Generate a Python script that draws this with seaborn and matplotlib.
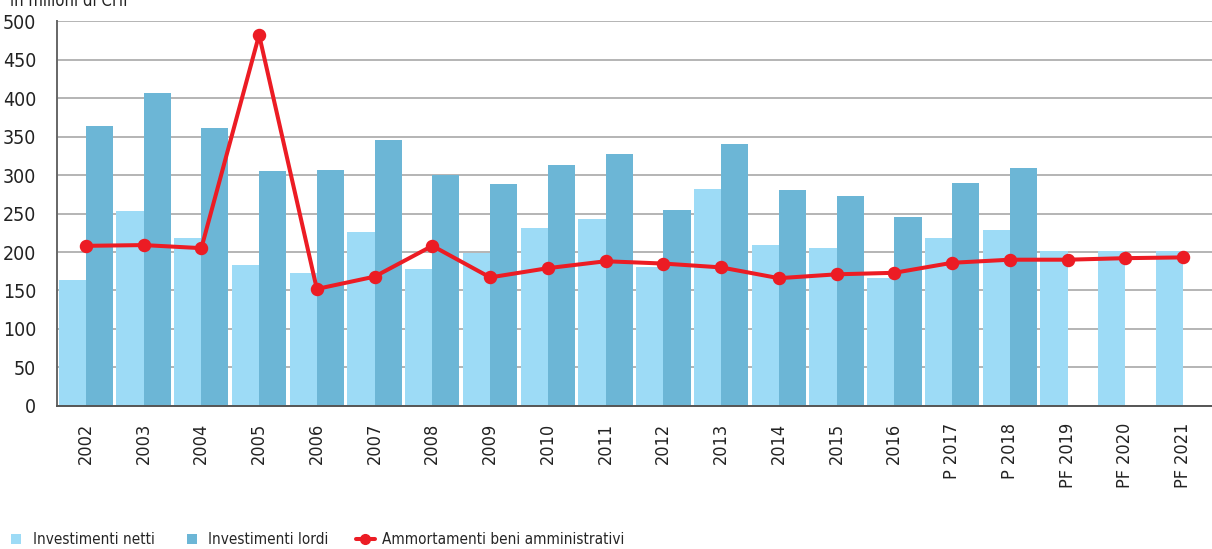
import pandas as pd
import numpy as np
import matplotlib
matplotlib.use("Agg")
import matplotlib.pyplot as plt
from matplotlib.lines import Line2D
from matplotlib.ticker import FixedLocator
import seaborn as sns

anni = ["2002", "2003", "2004", "2005", "2006", "2007", "2008", "2009", "2010",
        "2011", "2012", "2013", "2014", "2015", "2016", "P 2017", "P 2018",
        "PF 2019", "PF 2020", "PF 2021"]
netti = [163, 253, 218, 183, 173, 226, 178, 199, 231, 243, 180, 282, 209, 205,
         166, 218, 228, 201, 201, 201]
lordi = [364, 407, 361, 305, 307, 346, 300, 288, 313, 327, 255, 340, 281, 273,
         245, 289, 309, np.nan, np.nan, np.nan]
ammortamenti = [208, 209, 205, 482, 152, 168, 208, 167, 179, 188, 185, 180, 166,
                171, 173, 186, 190, 190, 192, 193]

serie = ["Investimenti netti", "Investimenti lordi"]
colori = {"Investimenti netti": "#9DDBF6", "Investimenti lordi": "#6CB6D6"}
rosso = "#EC1C24"

df = pd.DataFrame({
    "anno": anni * 2,
    "serie": [serie[0]] * len(anni) + [serie[1]] * len(anni),
    "valore": netti + lordi,
})

sns.set_style("white")
# font stretto, come nell'originale
plt.rcParams["font.family"] = ["DejaVu Sans"]
plt.rcParams["font.stretch"] = "condensed"
plt.rcParams["font.size"] = 14

fig = plt.figure(figsize=(12.12, 5.49), dpi=100)
ax = fig.add_axes([0.047, 0.2605, 0.953, 0.7012])

sns.barplot(data=df, x="anno", y="valore", hue="serie", hue_order=serie,
            order=anni, palette=colori, errorbar=None, width=0.94,
            saturation=1, linewidth=0, ax=ax, legend=False, zorder=2)

sns.pointplot(x=anni, y=ammortamenti, color=rosso, markers="o",
              linewidth=2.9, markersize=7.5, ax=ax, zorder=4)

ax.set_ylim(0, 500)
ax.set_xlim(-0.5, len(anni) - 0.5)
ax.set_yticks(range(0, 501, 50))
ax.yaxis.grid(True, color="#b4b4b4", linewidth=1.4, zorder=0)
ax.set_axisbelow(True)
ax.set_xlabel("")
ax.set_ylabel("")

for s in ["top", "right"]:
    ax.spines[s].set_visible(False)
ax.spines["left"].set_color("#666666")
ax.spines["bottom"].set_color("#555555")
ax.spines["left"].set_linewidth(1.4)
ax.spines["bottom"].set_linewidth(1.4)

ax.tick_params(axis="y", length=12, width=1.2, color="#555555",
               labelsize=14, labelcolor="#222222", pad=3)
ax.tick_params(axis="x", which="major", length=0, labelrotation=90,
               labelsize=13, labelcolor="#222222", pad=12)
ax.xaxis.set_minor_locator(FixedLocator(np.arange(-0.5, len(anni), 1)))
ax.tick_params(axis="x", which="minor", length=12, width=1.2, color="#444444")
for lab in ax.get_xticklabels():
    lab.set_verticalalignment("top")

fig.text(0.008, 0.998, "in milioni di CHF", fontsize=12, color="#222222",
         ha="left", va="center")

handles = [
    Line2D([], [], marker="s", linestyle="none", markersize=7,
           markerfacecolor=colori[serie[0]], markeredgewidth=0),
    Line2D([], [], marker="s", linestyle="none", markersize=7,
           markerfacecolor=colori[serie[1]], markeredgewidth=0),
    Line2D([], [], marker="o", color=rosso, linewidth=2.9, markersize=7),
]
fig.legend(handles, serie + ["Ammortamenti beni amministrativi"],
           loc="center left", bbox_to_anchor=(7 / 1212, 1 - 540 / 549),
           ncol=3, frameon=False, fontsize=11, handlelength=1.2,
           handletextpad=0.5, columnspacing=1.8, borderpad=0,
           borderaxespad=0)

fig.savefig("out.png", dpi=100)
